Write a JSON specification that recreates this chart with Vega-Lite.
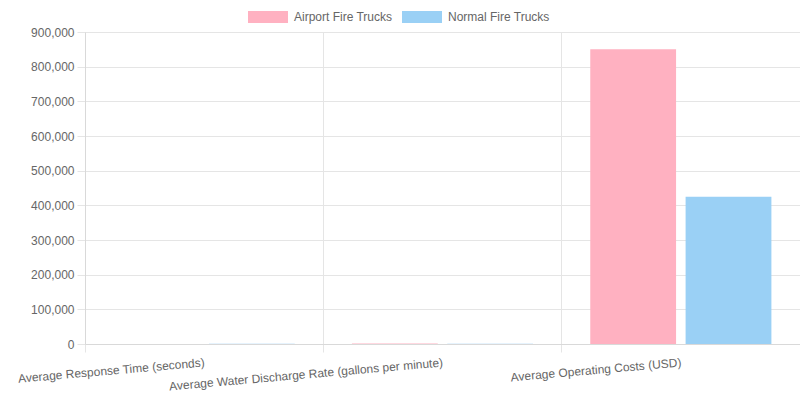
{
  "$schema": "https://vega.github.io/schema/vega-lite/v6.json",
  "width": 715,
  "height": 312,
  "autosize": "none",
  "padding": {"left": 85, "top": 32, "right": 0, "bottom": 56},
  "background": "white",
  "config": {
    "font": "Liberation Sans",
    "view": {"stroke": "#e5e5e5"},
    "axis": {"labelFont": "Liberation Sans", "labelFontSize": 12, "labelColor": "#666666", "gridColor": "#e5e5e5", "tickColor": "#e5e5e5", "domainColor": "#d9d9d9", "title": null}
  },
  "data": {
    "values": [
      {"metric": "Average Response Time (seconds)", "type": "Airport Fire Trucks", "value": 180},
      {"metric": "Average Response Time (seconds)", "type": "Normal Fire Trucks", "value": 420},
      {"metric": "Average Water Discharge Rate (gallons per minute)", "type": "Airport Fire Trucks", "value": 1500},
      {"metric": "Average Water Discharge Rate (gallons per minute)", "type": "Normal Fire Trucks", "value": 1000},
      {"metric": "Average Operating Costs (USD)", "type": "Airport Fire Trucks", "value": 850000},
      {"metric": "Average Operating Costs (USD)", "type": "Normal Fire Trucks", "value": 425000}
    ]
  },
  "mark": {"type": "bar", "opacity": 1},
  "encoding": {
    "x": {
      "field": "metric",
      "type": "nominal",
      "sort": null,
      "scale": {"paddingInner": 0, "paddingOuter": 0},
      "axis": {"bandPosition": 0, "labelOffset": 0, "labelAngle": -5, "labelAlign": "right", "labelBaseline": "top", "labelPadding": 5, "tickSize": 8, "grid": true, "labelLimit": 400}
    },
    "xOffset": {
      "field": "type",
      "type": "nominal",
      "sort": ["Airport Fire Trucks", "Normal Fire Trucks"],
      "scale": {"paddingInner": 0.1, "paddingOuter": 0.3}
    },
    "y": {
      "field": "value",
      "type": "quantitative",
      "scale": {"domain": [0, 900000], "nice": false},
      "axis": {"values": [0, 100000, 200000, 300000, 400000, 500000, 600000, 700000, 800000, 900000], "format": ",.0f", "tickSize": 8, "labelPadding": 3, "grid": true}
    },
    "color": {
      "field": "type",
      "type": "nominal",
      "scale": {"domain": ["Airport Fire Trucks", "Normal Fire Trucks"], "range": ["#ffb1c1", "#9ad0f5"]},
      "legend": {
        "title": null,
        "orient": "none",
        "direction": "horizontal",
        "legendX": 163,
        "legendY": -35,
        "padding": 0,
        "symbolType": "M-1,-0.3H1V0.3H-1Z",
        "symbolSize": 1600,
        "symbolStrokeWidth": 0,
        "symbolOpacity": 1,
        "labelFont": "Liberation Sans",
        "labelFontSize": 12,
        "labelColor": "#666666",
        "labelOffset": 6,
        "columnPadding": 9
      }
    }
  }
}
